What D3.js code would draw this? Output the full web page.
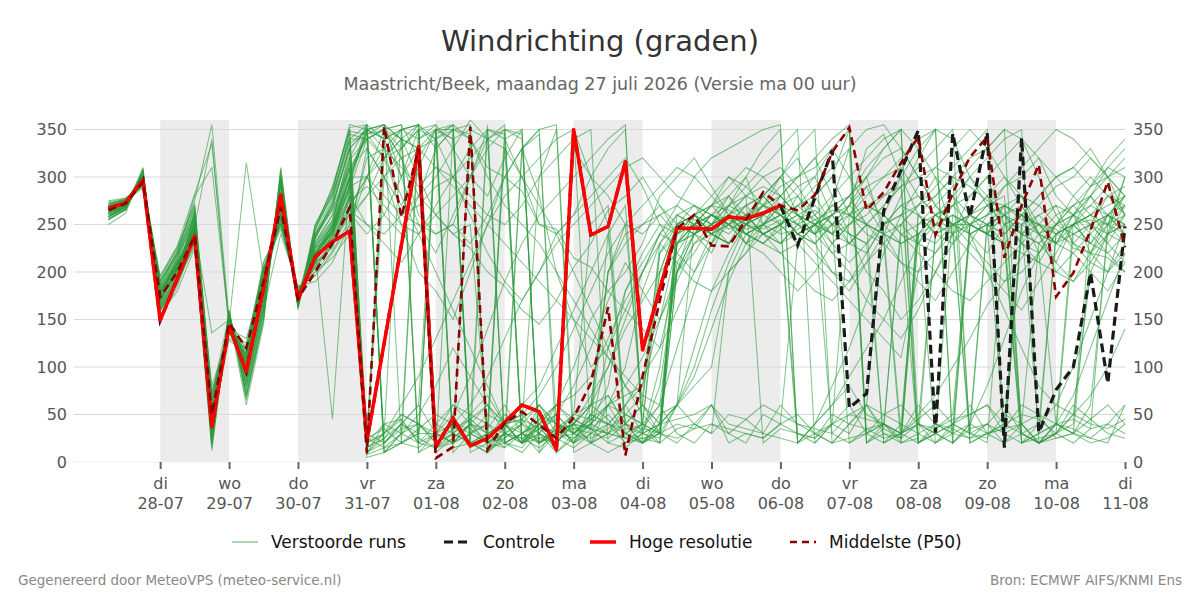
<!DOCTYPE html>
<html>
<head>
<meta charset="utf-8">
<script src="https://cdn.jsdelivr.net/npm/d3@7"></script>
<style>
  body { margin: 0; background: #fff; }
  svg { font-family: "DejaVu Sans", sans-serif; }
</style>
</head>
<body>
<svg id="chart" width="1200" height="600"></svg>
<script>
// run start and step (6-hourly values)
const startTime = Date.UTC(2026, 6, 27, 6);
const stepHours = 6;

const dayNames = ['di','wo','do','vr','za','zo','ma','di','wo','do','vr','za','zo','ma','di'];
const dayDates = ['28-07','29-07','30-07','31-07','01-08','02-08','03-08','04-08','05-08','06-08','07-08','08-08','09-08','10-08','11-08'];
const yTicks = [0, 50, 100, 150, 200, 250, 300, 350];

const hres = [267,273,297,149,193,238,37,143,95,183, 281,171,216,232,243,22,125,228,332,16,
  46,17,25,42,60,53,13,350,239,248, 316,118,182,246,246,245,258,256,262,270];

const control = [267,273,297,149,193,238,37,143,95,183, 281,171,216,232,243,22,125,228,332,16,
  46,17,25,42,60,53,13,350,239,248, 316,118,182,246,246,245,258,256,262,270,
  228,278,328,57,72,265,307,349,31,346, 258,347,15,341,31,76,100,199,83,248];

const median = [265,272,295,174,200,238,50,146,120,190, 268,172,200,230,268,9,353,258,330,4,
  16,353,13,41,53,39,25,47,83,163, 7,90,170,246,260,228,227,255,284,270,
  265,281,326,352,265,284,315,342,239,283, 321,342,215,270,313,174,199,244,295,226];

const members = [
  [262,270,300,168,205,252,30,150,90,190, 275,170,230,255,320,355,340,300,350,20, 40,15,30,350,345,20,35,40,60,200, 230,250,260,240,250,270,265,255,280,300, 260,240,275,330,20,35,250,270,300,240, 30,20,250,260,220,240,260,280,250,230],
  [270,274,292,180,210,230,55,140,110,200, 260,175,220,230,280,20,30,45,20,15, 25,40,355,20,30,45,25,15,30,40, 20,35,60,210,240,250,230,260,240,250, 270,255,240,260,290,250,230,240,20,30, 40,250,260,240,230,210,250,270,290,260],
  [258,268,305,160,190,265,70,155,85,175, 290,165,240,270,330,350,10,30,350,340, 15,20,30,40,45,35,20,350,300,250, 40,30,25,60,250,270,300,280,20,35, 30,25,40,260,280,300,320,340,350,20, 35,40,30,240,250,230,260,220,240,300],
  [265,275,298,172,200,245,35,130,120,210, 250,180,210,245,300,30,320,340,355,40, 30,20,25,50,40,30,60,45,35,20, 15,30,100,230,260,240,250,270,280,260, 240,230,250,270,330,345,300,260,240,250, 260,280,240,30,20,40,30,220,260,280],
  [275,278,290,190,220,280,310,145,100,160, 240,185,190,210,250,300,260,240,280,330, 350,20,350,345,30,40,10,25,40,30, 50,70,200,250,240,260,280,300,250,230, 250,280,300,350,30,40,20,25,240,270, 300,280,260,250,30,40,35,25,20,60],
  [255,265,310,150,185,235,20,160,70,150, 300,160,250,280,340,10,25,40,30,345, 355,10,20,30,25,15,30,50,60,45, 20,25,30,40,35,60,20,30,25,40, 50,30,20,40,35,25,30,45,60,40, 30,25,50,40,20,30,60,45,30,25],
  [268,272,302,176,215,260,60,135,105,195, 270,178,225,240,300,345,350,320,260,240, 250,230,260,300,330,345,40,20,35,120, 180,210,240,260,250,240,230,250,260,270, 290,300,260,240,230,20,30,40,35,50, 250,260,270,280,240,230,220,200,180,210],
  [262,270,295,182,208,242,40,148,95,180, 265,170,210,225,280,25,15,20,35,50, 40,30,20,25,40,300,350,10,20,30, 25,20,35,230,250,260,245,255,270,300, 320,280,250,270,300,240,250,230,220,250, 20,30,35,40,50,25,30,60,240,250],
  [272,276,288,195,225,270,75,128,115,205, 245,182,200,215,240,330,300,270,310,350, 20,40,30,15,330,350,355,30,45,60, 70,80,150,230,240,220,260,270,250,260, 240,250,260,280,310,330,350,20,30,40, 30,250,240,260,280,300,310,290,300,320],
  [250,262,308,155,180,225,15,152,60,145, 310,165,245,290,350,5,10,20,30,30, 60,50,40,20,10,30,20,40,35,50, 30,25,20,35,40,30,50,45,30,60, 40,30,20,25,30,50,60,40,30,20, 40,30,35,60,50,40,30,20,25,40],
  [266,272,300,170,205,248,340,140,130,190, 255,175,220,250,330,350,355,340,300,260, 240,250,30,40,20,25,30,35,40,200, 240,250,270,240,260,250,280,260,240,220, 230,250,260,280,300,320,330,300,270,250, 240,220,250,260,240,200,220,240,260,250],
  [262,268,296,178,212,255,50,138,100,170, 280,168,230,260,310,20,300,330,350,10, 25,40,20,35,60,80,120,160,200,240, 30,20,40,250,270,260,250,240,230,245, 255,265,250,240,230,250,270,260,250,240, 260,250,230,220,210,240,250,255,250,300],
  [258,270,304,165,198,262,25,158,80,165, 295,163,235,275,345,340,20,35,40,30, 20,350,340,330,20,40,30,20,60,70, 40,35,30,200,230,240,260,250,245,255, 30,25,50,40,60,30,20,240,260,270, 280,300,250,240,260,270,230,250,280,270],
  [270,278,292,185,218,268,65,146,110,200, 260,180,215,235,270,300,280,260,270,290, 300,320,340,350,20,30,10,330,300,280, 250,240,260,270,255,245,260,250,270,265, 240,230,250,20,30,40,25,260,240,230, 250,270,260,240,230,250,260,280,260,240],
  [264,272,298,173,203,240,45,142,95,185, 268,172,212,238,290,15,25,50,40,20, 35,45,30,20,15,40,25,30,50,40, 35,30,40,60,80,100,200,220,240,250, 260,250,240,270,290,300,310,280,260,250, 240,250,30,20,40,240,250,260,270,280],
  [268,274,302,188,222,275,355,150,105,180, 285,174,240,265,310,340,350,355,320,350, 10,30,20,40,45,60,30,25,40,80, 180,220,250,240,260,270,250,230,250,240, 245,255,265,260,250,240,30,40,20,35, 250,270,290,300,320,280,260,250,240,230],
  [260,268,306,162,195,258,28,154,75,160, 300,168,250,285,355,350,340,350,355,330, 350,355,20,340,350,10,30,40,20,60, 50,40,30,260,250,240,230,250,260,250, 20,30,40,50,60,35,25,240,250,260, 250,240,230,20,30,40,45,35,250,260],
  [266,270,294,178,208,245,80,136,125,205, 255,178,205,230,265,250,240,260,280,300, 330,360,340,20,30,20,35,50,45,40, 30,40,200,250,260,270,280,250,240,230, 250,260,280,300,320,340,350,330,300,280, 260,250,240,260,280,300,310,330,300,260],
  [255,266,300,158,190,228,18,156,65,150, 305,162,235,270,330,30,20,40,60,350, 340,350,15,20,30,50,40,20,30,25, 40,60,30,25,35,40,30,45,60,50, 40,35,30,50,45,40,30,60,40,30, 25,30,40,50,45,30,20,35,40,30],
  [272,276,290,192,226,272,62,144,110,195, 250,183,200,222,255,280,300,320,330,340, 355,20,10,30,20,45,60,40,20,30, 60,80,220,240,250,260,255,245,250,260, 270,280,300,260,250,240,230,20,40,30, 240,250,260,270,240,230,250,260,240,250],
  [262,268,296,170,204,250,42,138,100,188, 270,170,225,250,300,355,10,20,340,350, 350,345,10,25,40,20,30,40,70,100, 150,200,240,230,250,260,270,280,290,280, 260,250,240,230,250,20,30,260,280,300, 30,40,20,250,240,260,270,250,230,210],
  [270,272,300,184,212,238,58,150,118,178, 262,176,210,240,280,10,40,45,20,30, 40,20,15,30,25,35,45,20,40,60, 30,20,50,60,40,30,200,240,250,260, 250,240,260,280,250,240,230,240,260,250, 250,240,260,230,220,40,30,25,40,60],
  [258,270,308,166,196,232,22,160,72,158, 298,166,245,282,340,340,320,330,350,355, 20,30,40,330,300,250,240,260,300,330, 350,30,20,240,260,250,270,260,240,250, 280,300,330,350,20,30,25,40,240,250, 260,270,280,30,20,40,250,260,280,290],
  [274,277,293,196,228,282,335,146,108,210, 248,184,196,220,250,320,330,310,290,310, 300,280,260,250,270,300,320,340,350,20, 30,40,220,250,260,240,230,250,270,260, 240,250,230,250,270,260,240,230,250,260, 240,250,270,260,250,240,250,230,220,240],
  [264,272,296,176,206,246,38,144,98,186, 272,172,218,246,310,25,35,20,15,30, 20,40,35,60,30,25,20,45,35,30, 40,20,30,230,240,250,260,240,250,270, 260,250,30,20,35,40,240,250,260,270, 250,240,230,20,25,30,240,250,260,270],
  [260,268,302,163,193,236,26,152,82,168, 290,165,238,268,335,350,355,340,10,20, 30,20,10,30,40,60,40,20,50,40, 60,30,80,200,240,250,260,230,240,250, 260,270,250,230,250,270,290,310,330,350, 20,30,40,250,260,240,230,220,200,250],
  [268,275,294,186,220,262,68,140,122,202, 262,180,212,236,275,290,270,250,240,260, 280,300,330,350,340,20,30,50,250,270, 40,60,230,250,240,260,250,270,280,260, 250,240,260,230,220,250,260,270,280,300, 320,330,350,20,30,240,250,230,250,270],
  [256,266,304,160,188,230,12,158,68,152, 308,164,248,288,350,8,15,30,40,25, 40,35,20,15,30,40,50,30,20,10, 20,30,40,45,50,60,40,35,30,25, 20,40,60,80,50,40,30,20,35,45, 50,60,40,30,20,25,30,45,60,40],
  [270,274,298,180,210,243,48,148,112,192, 258,174,222,244,292,350,330,260,250,240, 250,300,350,20,30,10,40,35,30,60, 100,180,230,260,270,250,240,260,280,300, 280,260,240,250,260,280,300,20,30,260, 250,240,260,280,270,250,240,230,260,280],
  [266,273,299,174,202,250,52,142,104,182, 266,172,216,242,285,20,350,340,330,15, 20,30,40,30,45,20,30,40,60,200, 250,60,40,230,250,240,250,260,240,250, 230,250,270,280,300,330,350,40,30,20, 250,240,270,260,250,230,240,250,230,260],
  [260,268,300,170,200,250,40,145,100,190, 270,170,220,250,310,330,300,250,200,180, 150,200,250,300,330,280,200,150,100,120, 160,200,230,210,190,180,200,220,250,280, 300,320,280,240,200,180,150,170,200,230, 260,280,300,270,240,210,190,220,250,280],
  [268,274,296,176,210,245,55,148,105,180, 262,174,226,248,298,350,355,300,250,220, 260,300,340,355,20,40,60,100,150,180, 200,230,280,300,320,290,260,240,250,270, 280,250,220,200,170,150,130,160,200,240, 280,300,320,340,300,260,230,210,200,220],
  [264,270,298,170,198,236,35,150,92,176, 278,168,232,260,322,10,30,60,90,130, 170,210,250,280,300,320,340,350,20,40, 60,90,120,160,200,240,260,280,300,310, 290,260,230,210,230,260,300,330,350,340, 300,270,250,230,210,200,190,210,240,270],
  [272,276,292,190,218,262,70,140,112,200, 255,180,208,232,268,300,330,350,355,340, 300,260,220,190,170,200,240,260,280,300, 320,290,250,220,200,230,270,300,330,350, 20,40,80,120,170,220,260,290,310,330, 350,330,300,280,250,230,260,290,320,340],
  [258,266,304,162,192,254,24,156,78,162, 296,164,240,278,348,345,320,280,240,200, 160,120,80,40,20,30,50,80,120,170, 210,180,150,200,240,260,250,230,220,200, 180,200,230,250,270,260,240,220,200,180, 170,190,210,230,250,270,260,240,220,200],
  [266,272,300,178,206,248,46,142,102,188, 268,173,216,242,288,340,350,355,10,30, 50,90,140,190,230,260,280,300,320,340, 355,20,40,60,100,160,210,250,270,290, 300,310,330,300,270,240,210,190,170,200, 230,260,290,310,330,350,340,320,300,280],
  [270,275,296,182,214,256,60,146,115,196, 262,176,214,238,280,250,230,210,240,270, 300,330,350,340,300,270,240,200,160,120, 80,50,30,60,120,180,220,250,260,270, 250,230,200,180,210,240,280,320,350,20, 40,80,130,180,220,250,280,300,280,260],
  [262,270,302,168,202,244,32,152,88,178, 284,168,228,252,315,20,40,30,50,80, 120,90,60,40,50,70,100,140,180,220, 250,270,290,310,300,280,260,240,230,250, 270,290,310,330,350,355,330,300,270,250, 230,210,190,200,220,250,270,290,310,300],
  [268,272,298,180,206,250,50,144,106,186, 266,172,218,244,300,300,320,340,330,310, 290,270,250,230,210,190,170,150,130,110, 90,70,60,120,180,230,260,280,270,260, 240,220,200,190,210,230,250,270,290,310, 330,350,20,30,40,60,100,150,200,230],
  [256,266,306,160,190,234,20,158,70,156, 304,164,244,284,352,355,20,40,60,30, 20,40,60,30,20,40,60,70,90,130, 170,200,240,270,300,320,330,340,350,355, 20,40,60,90,120,150,190,230,260,280, 300,320,340,350,20,40,70,120,170,220],
  [262,270,298,172,204,246,136,150,96,184, 272,170,222,45,300,20,30,350,340,355, 330,300,280,320,350,20,30,40,60,100, 140,170,200,220,250,270,290,310,300,280, 260,240,220,230,250,270,290,20,30,40, 60,30,20,40,230,250,270,280,300,310],
  [266,272,300,176,208,250,44,146,315,196, 270,172,218,246,296,350,340,350,20,40, 60,40,20,30,330,350,10,30,50,70, 40,20,30,200,220,250,270,290,310,330, 350,20,40,60,30,20,40,250,270,290, 310,330,350,340,320,300,280,260,250,240],
  [270,276,294,184,216,258,64,138,118,198, 256,180,206,230,262,240,260,300,330,350, 355,340,310,300,285,250,245,215,205,180, 160,140,120,200,260,280,300,290,270,250, 230,210,190,170,150,130,110,200,250,280, 240,200,160,120,80,60,50,70,100,140],
  [260,266,302,164,194,240,28,156,84,170, 292,166,236,266,332,10,20,40,25,15, 30,50,70,40,30,20,40,30,25,35, 50,40,30,20,40,60,30,20,50,40, 30,20,40,30,60,50,40,30,20,40, 50,60,30,40,20,30,50,40,35,45],
  [264,270,296,174,204,244,40,146,100,188, 270,171,220,248,305,345,355,20,30,340, 350,30,50,40,20,60,40,30,45,240, 270,40,20,250,260,240,230,250,280,300, 330,350,20,40,60,250,260,240,230,250, 260,240,230,250,270,290,300,320,300,280],
  [268,273,298,178,210,250,54,144,108,190, 264,174,220,240,290,300,350,320,280,260, 240,225,200,185,160,145,170,205,230,265, 280,300,270,250,240,230,250,260,270,280, 300,320,340,355,20,40,30,50,70,100, 130,165,190,215,240,250,260,270,260,250],
  [258,268,304,166,196,256,26,154,80,166, 296,165,238,272,340,355,10,30,20,350, 340,20,30,40,50,30,20,40,35,30, 25,40,60,30,20,40,35,30,25,40, 230,250,270,260,240,230,20,30,40,35, 25,40,60,30,20,30,40,250,260,240],
  [272,276,292,190,222,266,72,142,114,202, 252,182,204,228,260,280,320,350,355,20, 40,60,90,130,170,200,230,250,270,290, 310,320,300,280,270,260,250,240,230,220, 200,180,170,190,220,250,270,280,260,240, 220,200,180,160,190,220,250,280,310,330],
  [262,270,300,170,202,248,36,148,94,182, 276,170,226,254,318,340,350,330,355,10, 350,340,300,270,250,230,200,170,140,110, 80,60,40,60,90,140,190,230,260,280, 260,240,250,260,270,280,290,300,310,300, 290,275,270,255,250,245,225,220,215,200],
  [266,272,298,176,206,246,46,144,104,188, 268,173,218,244,292,15,30,50,40,20, 30,45,60,40,20,35,50,30,40,60, 80,110,150,190,230,250,260,250,240,230, 240,250,260,270,250,230,210,200,220,240, 250,260,270,40,20,30,50,200,240,260]
];

const width = 1200;
const svg = d3.select('#chart');

const x = d3.scaleUtc()
  .domain([Date.UTC(2026, 6, 26, 18), Date.UTC(2026, 7, 11, 0)])
  .range([74, 1125]);
const y = d3.scaleLinear().domain([0, 360]).range([462, 120]);

const timeAt = i => new Date(startTime + i * stepHours * 3600 * 1000);
const tickDays = dayDates.map((d, i) => new Date(Date.UTC(2026, 6, 28 + i, 0)));

// alternating shaded days
const shadeDays = tickDays.filter((d, i) => i % 2 === 0 && i < tickDays.length - 1);
svg.append('g').selectAll('rect')
  .data(shadeDays)
  .enter().append('rect')
  .attr('x', d => x(d))
  .attr('y', y(360))
  .attr('width', d => x(d3.utcDay.offset(d, 1)) - x(d))
  .attr('height', y(0) - y(360))
  .attr('fill', '#ececec');

// gridlines
svg.append('g').selectAll('line')
  .data(yTicks)
  .enter().append('line')
  .attr('x1', x.range()[0]).attr('x2', x.range()[1])
  .attr('y1', d => y(d)).attr('y2', d => y(d))
  .attr('stroke', d => d === 0 ? '#eeeeee' : '#d8d8d8')
  .attr('stroke-width', 1);

// y axes left and right
const yLeft = svg.append('g')
  .attr('transform', 'translate(' + x.range()[0] + ',0)')
  .call(d3.axisLeft(y).tickValues(yTicks).tickSize(0).tickPadding(7));
const yRight = svg.append('g')
  .attr('transform', 'translate(' + x.range()[1] + ',0)')
  .call(d3.axisRight(y).tickValues(yTicks).tickSize(0).tickPadding(8));
[yLeft, yRight].forEach(g => {
  g.select('.domain').remove();
  g.selectAll('text').attr('fill', '#555').style('font-size', '16px')
    .style('font-family', '"DejaVu Sans", sans-serif');
});

// x axis with day name + date
const xAxis = svg.append('g')
  .attr('transform', 'translate(0,' + y(0) + ')')
  .call(d3.axisBottom(x).tickValues(tickDays).tickSize(7).tickPadding(6).tickFormat(''));
xAxis.select('.domain').remove();
xAxis.selectAll('.tick line').attr('stroke', '#666').attr('stroke-width', 2);
xAxis.selectAll('.tick').each(function(d, i) {
  const t = d3.select(this).append('text')
    .attr('text-anchor', 'middle')
    .attr('fill', '#555')
    .style('font-size', '16px')
    .style('font-family', '"DejaVu Sans", sans-serif');
  t.append('tspan').attr('x', 0).attr('y', 27).text(dayNames[i]);
  t.append('tspan').attr('x', 0).attr('y', 47).text(dayDates[i]);
});

const line = d3.line()
  .x((d, i) => x(timeAt(i)))
  .y(d => y(d));

// ensemble members
svg.append('g').selectAll('path')
  .data(members)
  .enter().append('path')
  .attr('d', line)
  .attr('fill', 'none')
  .attr('stroke', '#2b9b3c')
  .attr('stroke-opacity', 0.58)
  .attr('stroke-width', 1.05);

svg.append('path').datum(control)
  .attr('d', line).attr('fill', 'none')
  .attr('stroke', '#1a1a1a').attr('stroke-width', 3.2)
  .attr('stroke-dasharray', '9,5');

svg.append('path').datum(hres)
  .attr('d', line).attr('fill', 'none')
  .attr('stroke', '#ff0000').attr('stroke-width', 3.5)
  .attr('stroke-linejoin', 'round');

svg.append('path').datum(median)
  .attr('d', line).attr('fill', 'none')
  .attr('stroke', '#8b0000').attr('stroke-width', 2.6)
  .attr('stroke-dasharray', '8,5');

// titles
svg.append('text').attr('x', width / 2).attr('y', 51)
  .attr('text-anchor', 'middle').attr('fill', '#333')
  .style('font-size', '29px').text('Windrichting (graden)');
svg.append('text').attr('x', width / 2).attr('y', 90)
  .attr('text-anchor', 'middle').attr('fill', '#666')
  .style('font-size', '17.5px').text('Maastricht/Beek, maandag 27 juli 2026 (Versie ma 00 uur)');

// legend
const legendItems = [
  { label: 'Verstoorde runs', x: 232, color: '#7cc07c', w: 1.2, dash: null },
  { label: 'Controle', x: 444, color: '#1a1a1a', w: 3.2, dash: '9,5' },
  { label: 'Hoge resolutie', x: 590, color: '#ff0000', w: 3.5, dash: null },
  { label: 'Middelste (P50)', x: 790, color: '#8b0000', w: 2.6, dash: '7,5' }
];
const legend = svg.append('g');
legendItems.forEach(it => {
  legend.append('line')
    .attr('x1', it.x).attr('x2', it.x + 26)
    .attr('y1', 542).attr('y2', 542)
    .attr('stroke', it.color).attr('stroke-width', it.w)
    .attr('stroke-dasharray', it.dash);
  legend.append('text')
    .attr('x', it.x + 39).attr('y', 548)
    .attr('fill', '#111').style('font-size', '17px')
    .text(it.label);
});

// footer
svg.append('text').attr('x', 18).attr('y', 585)
  .attr('fill', '#888').style('font-size', '13.5px')
  .text('Gegenereerd door MeteoVPS (meteo-service.nl)');
svg.append('text').attr('x', 1182).attr('y', 585)
  .attr('text-anchor', 'end').attr('fill', '#888').style('font-size', '13.5px')
  .text('Bron: ECMWF AIFS/KNMI Ens');
</script>
</body>
</html>
